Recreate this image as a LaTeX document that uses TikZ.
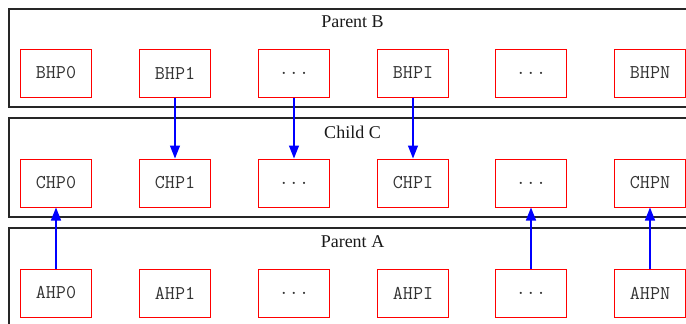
\documentclass[tikz,border=0pt]{standalone}
\usepackage{fontspec}
\setmainfont{Liberation Serif}
\usetikzlibrary{arrows.meta}
\begin{document}
\begin{tikzpicture}[x=1pt,y=-1pt,
  hp/.style={draw=red, line width=1pt, minimum width=71.4pt, minimum height=48pt, inner sep=0pt, text=black!80, font=\ttfamily\fontsize{19.5}{22}\selectfont},
  cluster/.style={draw=black!85, line width=1.2pt},
  clabel/.style={font=\fontsize{18}{21}\selectfont, inner sep=0pt, text=black!90},
  link/.style={draw=blue, line width=1.4pt, -{Triangle[length=13pt,width=10pt]}}]
\useasboundingbox (0,0) rectangle (686,324);
% clusters
\draw[cluster] (9,9) rectangle (700,107);
\draw[cluster] (9,118) rectangle (700,217);
\draw[cluster] (9,228) rectangle (700,340);
\node[clabel] (lb) at (352.5,22) {Parent B};
\node[clabel] (lc) at (352.5,132) {Child C};
\node[clabel] (la) at (352.5,242) {Parent A};
% Parent B
\node[hp] (b0) at (56,73) {BHP0};
\node[hp] (b1) at (175,73) {BHP1};
\node[hp] (b2) at (294,73) {...};
\node[hp] (b3) at (413,73) {BHPI};
\node[hp] (b4) at (531,73) {...};
\node[hp] (b5) at (650,73) {BHPN};
% Child C
\node[hp] (c0) at (56,183) {CHP0};
\node[hp] (c1) at (175,183) {CHP1};
\node[hp] (c2) at (294,183) {...};
\node[hp] (c3) at (413,183) {CHPI};
\node[hp] (c4) at (531,183) {...};
\node[hp] (c5) at (650,183) {CHPN};
% Parent A
\node[hp] (a0) at (56,293) {AHP0};
\node[hp] (a1) at (175,293) {AHP1};
\node[hp] (a2) at (294,293) {...};
\node[hp] (a3) at (413,293) {AHPI};
\node[hp] (a4) at (531,293) {...};
\node[hp] (a5) at (650,293) {AHPN};
% links
\draw[link] (b1) -- (c1);
\draw[link] (b2) -- (c2);
\draw[link] (b3) -- (c3);
\draw[link] (a0) -- (c0);
\draw[link] (a4) -- (c4);
\draw[link] (a5) -- (c5);
\end{tikzpicture}
\end{document}
